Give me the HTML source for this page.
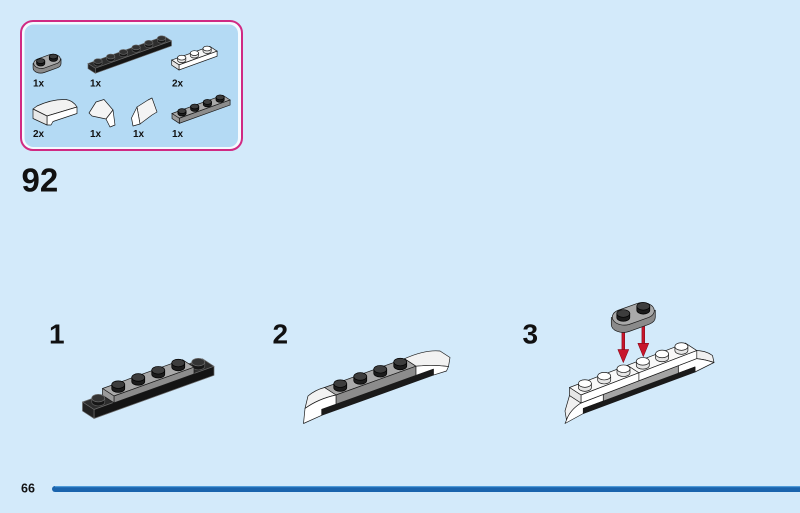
<!DOCTYPE html>
<html>
<head>
<meta charset="utf-8">
<style>
html,body{margin:0;padding:0;background:#d3eafa;}
svg{display:block;}
text{font-family:"Liberation Sans",Arial,sans-serif;font-weight:bold;fill:#111;}
</style>
</head>
<body>
<svg width="800" height="513" viewBox="0 0 800 513" xmlns="http://www.w3.org/2000/svg">
<defs>
  <g id="sk">
    <path d="M-6.5,-4 L-6.5,0 A6.5,3.8 0 0 0 6.5,0 L6.5,-4 Z" fill="#1c1c1c" stroke="#000"/>
    <ellipse cx="0" cy="-4" rx="6.5" ry="3.8" fill="#3d3d3d" stroke="#000"/>
  </g>
  <g id="sb">
    <path d="M-6.5,-4 L-6.5,0 A6.5,3.8 0 0 0 6.5,0 L6.5,-4 Z" fill="#161616" stroke="#5a5a5a"/>
    <ellipse cx="0" cy="-4" rx="6.5" ry="3.8" fill="#333" stroke="#6a6a6a"/>
  </g>
  <g id="sw">
    <path d="M-6.5,-4 L-6.5,0 A6.5,3.8 0 0 0 6.5,0 L6.5,-4 Z" fill="#e6e6e6" stroke="#1a1a1a"/>
    <ellipse cx="0" cy="-4" rx="6.5" ry="3.8" fill="#ffffff" stroke="#1a1a1a"/>
  </g>
  <g id="rp">
    <path d="M-12,0 L-12,7 A12,8 0 0 0 5.7,14 L25.7,6.8 A12,8 0 0 0 32,-0.2 L32,-7.2 L-12,0 Z" fill="#8a8a8a" stroke="#1a1a1a"/>
    <path d="M-5.7,-7 L14.3,-14.2 A12,8 0 0 1 25.7,-0.2 L5.7,7 A12,8 0 0 1 -5.7,-7 Z" fill="#a9a9a9" stroke="#1a1a1a"/>
    <use href="#sk" x="0" y="0"/>
    <use href="#sk" x="20" y="-7.2"/>
  </g>
</defs>

<rect x="0" y="0" width="800" height="513" fill="#d3eafa"/>

<!-- Parts callout -->
<rect x="21" y="21" width="221" height="129" rx="12" ry="12" fill="#f4faff" stroke="#d02a83" stroke-width="2"/>
<rect x="24.5" y="24.5" width="213.5" height="122.5" rx="9" ry="9" fill="#b4daf4"/>

<!-- rounded 1x2 gray -->
<g transform="translate(40.7,63.6) scale(0.635)" stroke-width="1.1">
  <use href="#rp"/>
</g>
<!-- black 1x6 -->
<g transform="translate(88,63.5) scale(0.635)" stroke-width="1">
  <polygon points="0,0 120,-43.2 131.5,-35.7 11.5,7.5" fill="#2d2d2d" stroke="#6a6a6a"/>
  <polygon points="11.5,7.5 131.5,-35.7 131.5,-27.7 11.5,15.5" fill="#151515" stroke="#6a6a6a"/>
  <polygon points="0,0 11.5,7.5 11.5,15.5 0,8" fill="#222" stroke="#6a6a6a"/>
  <use href="#sb" x="15.75" y="0.15"/>
  <use href="#sb" x="35.75" y="-7.05"/>
  <use href="#sb" x="55.75" y="-14.25"/>
  <use href="#sb" x="75.75" y="-21.45"/>
  <use href="#sb" x="95.75" y="-28.65"/>
  <use href="#sb" x="115.75" y="-35.85"/>
</g>
<!-- white 1x3 -->
<g transform="translate(171.7,60.1) scale(0.635)" stroke-width="1.1">
  <polygon points="0,0 60,-21.6 71.5,-14.1 11.5,7.5" fill="#f6f6f6" stroke="#1a1a1a"/>
  <polygon points="11.5,7.5 71.5,-14.1 71.5,-6.1 11.5,15.5" fill="#ffffff" stroke="#1a1a1a"/>
  <polygon points="0,0 11.5,7.5 11.5,15.5 0,8" fill="#e4e4e4" stroke="#1a1a1a"/>
  <use href="#sw" x="15.75" y="0.15"/>
  <use href="#sw" x="35.75" y="-7.05"/>
  <use href="#sw" x="55.75" y="-14.25"/>
</g>
<!-- gray 1x4 -->
<g transform="translate(172,113.5) scale(0.635)" stroke-width="1.1">
  <polygon points="0,0 80,-28.8 91.5,-21.3 11.5,7.5" fill="#a9a9a9" stroke="#1a1a1a"/>
  <polygon points="11.5,7.5 91.5,-21.3 91.5,-13.3 11.5,15.5" fill="#8c8c8c" stroke="#1a1a1a"/>
  <polygon points="0,0 11.5,7.5 11.5,15.5 0,8" fill="#9a9a9a" stroke="#1a1a1a"/>
  <use href="#sk" x="15.75" y="0.15"/>
  <use href="#sk" x="35.75" y="-7.05"/>
  <use href="#sk" x="55.75" y="-14.25"/>
  <use href="#sk" x="75.75" y="-21.45"/>
</g>
<!-- curved slope -->
<g stroke="#1a1a1a" stroke-width="0.7" stroke-linejoin="round">
  <path d="M33,109 L37,106 Q52,99 66,99.5 Q73,100.5 77,107 L47,116 Z" fill="#f2f2f2"/>
  <path d="M47,116 L77,107 L77,113.5 L53,121.5 L51,125 L47,125 Z" fill="#ffffff"/>
  <path d="M33,109 L47,116 L47,125 L33,118.5 Z" fill="#e8e8e8"/>
  <!-- wedge 1 -->
  <polygon points="89,113 96,102 104,99.5 113,110 106,119 92,116" fill="#f4f4f4"/>
  <polygon points="113,110 115,125 110,127 106,119" fill="#ffffff"/>
  <!-- wedge 2 -->
  <polygon points="137,107 148,100 152,98 157,112 152,115 140,124" fill="#f4f4f4"/>
  <polygon points="131.5,118 137,107 140,124 133,126" fill="#ffffff"/>
</g>

<text x="33" y="86.5" font-size="10">1x</text>
<text x="90" y="86.5" font-size="10">1x</text>
<text x="172" y="86.5" font-size="10">2x</text>
<text x="33" y="137" font-size="10">2x</text>
<text x="90" y="137" font-size="10">1x</text>
<text x="133" y="137" font-size="10">1x</text>
<text x="172" y="137" font-size="10">1x</text>

<!-- Step number -->
<text x="21.5" y="191.7" font-size="33">92</text>

<!-- Sub-step numbers -->
<text x="49" y="343.5" font-size="28">1</text>
<text x="272.5" y="343.5" font-size="28">2</text>
<text x="522.5" y="343.5" font-size="28">3</text>

<!-- STEP 1 -->
<g stroke-width="0.7" stroke-linejoin="round">
  <polygon points="82.5,402 202.5,358.8 214,366.3 94,409.5" fill="#2d2d2d" stroke="#6a6a6a"/>
  <polygon points="94,409.5 214,366.3 214,375.3 94,418.5" fill="#141414" stroke="#6a6a6a"/>
  <polygon points="82.5,402 94,409.5 94,418.5 82.5,411" fill="#222" stroke="#6a6a6a"/>
  <use href="#sb" x="198.25" y="366.15"/>
  <polygon points="102.5,388.5 182.5,359.7 194,367.2 114,396" fill="#a9a9a9" stroke="#1a1a1a"/>
  <polygon points="114,396 194,367.2 194,374 114,402.8" fill="#8c8c8c" stroke="#1a1a1a"/>
  <polygon points="102.5,388.5 114,396 114,402.8 102.5,395.3" fill="#9a9a9a" stroke="#1a1a1a"/>
  <use href="#sk" x="118.25" y="388.65"/>
  <use href="#sk" x="138.25" y="381.45"/>
  <use href="#sk" x="158.25" y="374.25"/>
  <use href="#sk" x="178.25" y="367.05"/>
  <use href="#sb" x="98.25" y="402.15"/>
</g>

<!-- STEP 2 -->
<g stroke="#1a1a1a" stroke-width="0.7" stroke-linejoin="round">
  <polygon points="321.7,409.3 433.5,369.05 433.5,375.05 321.7,415.3" fill="#1a1a1a"/>
  <polygon points="324.5,387.5 404.5,358.7 416,366.2 336,395" fill="#a9a9a9"/>
  <polygon points="336,395 416,366.2 416,375.35 336,404.15" fill="#8c8c8c"/>
  <path d="M324.5,387.5 L336,395 Q318,399 305,408.5 L308,396 Q315,390 324.5,387.5 Z" fill="#f2f2f2"/>
  <path d="M305,408.5 Q318,399 336,395 L336,404.15 L321.7,409.3 L321.7,415.3 L303.5,423.5 Z" fill="#ffffff"/>
  <path d="M404.5,358.7 Q425,349.5 440,351 L450,357.5 L448.5,366.5 Q432,364.5 416,366.2 Z" fill="#f2f2f2"/>
  <path d="M416,366.2 Q432,364.5 448.5,366.5 L446.5,371 L433.5,375.05 L433.5,369.05 L416,375.35 Z" fill="#ffffff"/>
  <use href="#sk" x="340.25" y="387.65"/>
  <use href="#sk" x="360.25" y="380.45"/>
  <use href="#sk" x="380.25" y="373.25"/>
  <use href="#sk" x="400.25" y="366.05"/>
</g>

<!-- STEP 3 -->
<g stroke="#1a1a1a" stroke-width="0.7" stroke-linejoin="round">
  <path d="M569.5,395.5 L581,403 Q570,410 566.5,420 L565,411 Z" fill="#f0f0f0"/>
  <path d="M581,403 L603.3,394.45 L603.3,401.07 L583.3,408.5 L583.3,413.5 L565,423.5 L566.5,420 Q570,410 581,403 Z" fill="#ffffff"/>
  <path d="M685.3,351.1 Q703,348.5 712.5,355.5 L714,362.5 Q705,359.5 696.8,358.6 Z" fill="#f0f0f0"/>
  <path d="M678.3,365.7 L696.8,358.6 Q705,359.5 714,362.5 L695,372 L695,367 L678.3,373.2 Z" fill="#ffffff"/>
  <polygon points="583.3,408.5 695,367 695,372 583.3,413.5" fill="#1a1a1a"/>
  <polygon points="603.3,394.45 678.3,365.7 678.3,373.2 603.3,401.07" fill="#a4a4a4"/>
  <polygon points="569.5,387.5 685.3,343.1 696.8,350.6 581,395" fill="#f8f8f8"/>
  <polygon points="581,395 696.8,350.6 696.8,358.6 581,403" fill="#ffffff"/>
  <polygon points="569.5,387.5 581,395 581,403 569.5,395.5" fill="#e6e6e6"/>
  <line x1="627.4" y1="365.3" x2="638.9" y2="372.8"/>
  <line x1="638.9" y1="372.8" x2="638.9" y2="380.8"/>
  <use href="#sw" x="584.9" y="387.55"/>
  <use href="#sw" x="604.2" y="380.15"/>
  <use href="#sw" x="623.5" y="372.75"/>
  <use href="#sw" x="642.8" y="365.35"/>
  <use href="#sw" x="662.1" y="357.95"/>
  <use href="#sw" x="681.4" y="350.55"/>
</g>

<!-- arrows -->
<g fill="#c8162b" stroke="#7a0010" stroke-width="0.5">
  <rect x="621.9" y="329" width="2.8" height="21"/>
  <polygon points="617.8,349.5 628.8,349.5 623.3,362.7"/>
  <rect x="641.9" y="322" width="2.8" height="22"/>
  <polygon points="637.8,343.3 648.8,343.3 643.3,356.7"/>
</g>

<!-- rounded plate above step 3 -->
<g transform="translate(623.3,317.5)" stroke-width="0.7">
  <use href="#rp"/>
</g>

<!-- footer -->
<text x="21" y="492.5" font-size="12.5">66</text>
<rect x="52" y="486" width="760" height="6" rx="3" ry="3" fill="#1a64ad"/>
<rect x="55" y="486" width="745" height="1.2" fill="#4f9bd8"/>
</svg>
</body>
</html>
